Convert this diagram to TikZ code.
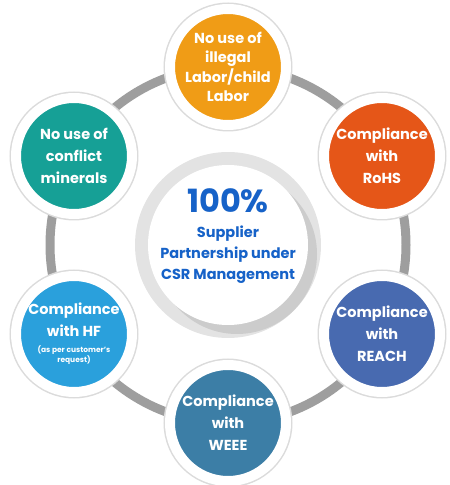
\documentclass[tikz,border=0pt]{standalone}
\usepackage{fontspec}
\setmainfont{Poppins}
\usepackage{xcolor}
\usetikzlibrary{positioning,calc}

\definecolor{amber}{RGB}{240,156,22}
\definecolor{rust}{RGB}{229,86,24}
\definecolor{royal}{RGB}{72,106,176}
\definecolor{steel}{RGB}{60,126,166}
\definecolor{sky}{RGB}{42,160,220}
\definecolor{teal}{RGB}{22,160,150}
\definecolor{hubblue}{RGB}{22,98,200}

\newcommand{\notesize}{\fontsize{7.5}{9}\selectfont}

\tikzset{
    badge/.style={circle, minimum size=116pt, inner sep=0pt, align=center, text=white,
        font=\bfseries\fontsize{14.5}{22}\selectfont, draw=white, line width=10pt,
        preaction={draw=black!14, line width=13pt}},
    ringline/.style={draw=black!38, line width=9pt},
    hubtext/.style={text=hubblue, align=center, font=\bfseries\fontsize{14.5}{21}\selectfont}
}

\begin{document}
\begin{tikzpicture}[x=1pt,y=1pt]
    \useasboundingbox (0,0) rectangle (450,485);
    % Center
    \coordinate (mid) at (228,240);
    \draw[ringline] (mid) circle[radius=178];
    \fill[black!11] (mid) circle[radius=93];
    \begin{scope}
        \clip (mid) circle[radius=93];
        \fill[black!20] ($(mid)+(9,-9)$) circle[radius=80];
    \end{scope}
    \node[circle, fill=white, minimum size=160pt, inner sep=0pt] (hub) at (mid) {};
    \node[hubtext, font=\bfseries\fontsize{32}{32}\selectfont] (pct) at (228,284) {100\%};
    \node[hubtext, below=6pt of pct] (partner) {Supplier\\Partnership under\\CSR Management};
    % Outer ring of badges
    \node[badge, fill=amber, font=\bfseries\fontsize{14.5}{19.5}\selectfont] (labor) at (228,418) {No use of\\illegal\\Labor/child\\Labor};
    \node[badge, fill=rust] (rohs) at (382,329) {Compliance\\with\\RoHS};
    \node[badge, fill=royal] (reach) at (382,151) {Compliance\\with\\REACH};
    \node[badge, fill=steel] (weee) at (228,62) {Compliance\\with\\WEEE};
    \node[badge, fill=sky] (hf) at (74,151) {Compliance\\with HF\\[-6pt]\notesize (as per customer's\\[-12pt]\notesize request)};
    \node[badge, fill=teal] (mineral) at (74,329) {No use of\\conflict\\minerals};
\end{tikzpicture}
\end{document}
